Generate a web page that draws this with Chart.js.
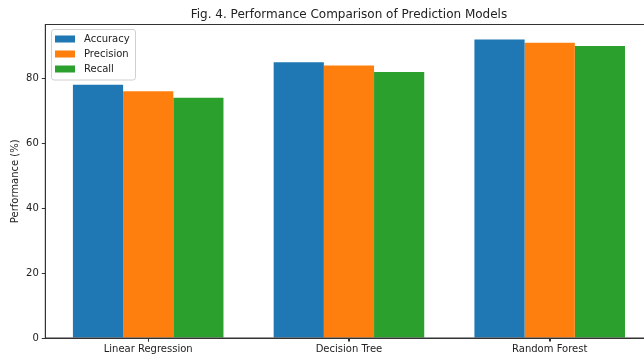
<!DOCTYPE html>
<html>
<head>
<meta charset="utf-8">
<script src="https://cdn.jsdelivr.net/npm/chart.js@4.4.1/dist/chart.umd.min.js"></script>
<style>
  html, body { margin: 0; padding: 0; overflow: hidden; background: #fff; }
  #wrap { position: relative; width: 660px; height: 356px; }
</style>
</head>
<body>
<div id="wrap"><canvas id="c"></canvas></div>
<script>
const categories = ['Linear Regression', 'Decision Tree', 'Random Forest'];
const accuracy = [78, 85, 92];
const precision = [76, 84, 91];
const recall = [74, 82, 90];
const yTicks = [0, 20, 40, 60, 80];
const seriesNames = ['Accuracy', 'Precision', 'Recall'];
const titleText = 'Fig. 4. Performance Comparison of Prediction Models';
const yLabel = 'Performance (%)';

const FONT = "'DejaVu Sans', sans-serif";
const colors = ['#1f77b4', '#ff7f0e', '#2ca02c'];

const toPoints = arr => arr.map((v, i) => ({ x: i, y: v }));

const framePlugin = {
  id: 'frame',
  afterDraw(chart) {
    const {ctx, chartArea: a} = chart;
    ctx.save();
    ctx.strokeStyle = '#333';
    ctx.lineWidth = 1;
    ctx.strokeRect(a.left, a.top, a.right - a.left, a.bottom - a.top);
    // x tick marks at category centres
    const xs = chart.scales.x;
    ctx.beginPath();
    categories.forEach((c, i) => {
      const px = Math.round(xs.getPixelForValue(i)) + 0.5;
      ctx.moveTo(px, a.bottom);
      ctx.lineTo(px, a.bottom + 3.5);
    });
    ctx.stroke();
    ctx.fillStyle = '#222';
    ctx.font = '12px ' + FONT;
    ctx.textAlign = 'center';
    ctx.textBaseline = 'middle';
    ctx.fillText(titleText, (a.left + a.right) / 2, 15);
    const bx = 51.5, by = 29.5, bw = 84, bh = 50.5;
    ctx.fillStyle = 'rgba(255,255,255,0.8)';
    ctx.strokeStyle = '#d0d0d0';
    ctx.beginPath();
    ctx.roundRect(bx, by, bw, bh, 2.5);
    ctx.fill();
    ctx.stroke();
    ctx.font = '10px ' + FONT;
    ctx.textAlign = 'left';
    chart.data.datasets.forEach((ds, i) => {
      const cy = 39 + i * 15;
      ctx.fillStyle = ds.backgroundColor;
      ctx.fillRect(55, cy - 3.5, 20, 7);
      ctx.fillStyle = '#222';
      ctx.fillText(ds.label, 84, cy + 0.5);
    });
    ctx.restore();
  }
};

new Chart(document.getElementById('c'), {
  type: 'bar',
  data: {
    datasets: [
      { label: seriesNames[0], data: toPoints(accuracy), backgroundColor: colors[0] },
      { label: seriesNames[1], data: toPoints(precision), backgroundColor: colors[1] },
      { label: seriesNames[2], data: toPoints(recall), backgroundColor: colors[2] }
    ]
  },
  options: {
    responsive: true,
    maintainAspectRatio: false,
    animation: false,
    datasets: { bar: { categoryPercentage: 0.75, barPercentage: 1.0, borderWidth: 0 } },
    layout: { padding: { top: 24.5, right: 7.4, left: 0, bottom: 0 } },
    plugins: {
      legend: { display: false },
      title: { display: false },
      tooltip: { enabled: false }
    },
    scales: {
      x: {
        type: 'linear',
        min: -0.5125,
        max: 2.5125,
        offset: false,
        afterBuildTicks(scale) { scale.ticks = categories.map((c, i) => ({ value: i })); },
        grid: { display: true, offset: false, drawOnChartArea: false, tickLength: 3.5, color: '#333', tickColor: '#333' },
        border: { display: true, color: '#333', width: 1 },
        ticks: {
          color: '#222', font: { family: FONT, size: 10 }, padding: 2, maxRotation: 0, autoSkip: false,
          callback: v => categories[v]
        },
        afterFit(scale) { scale.height = 356 - 338; }
      },
      y: {
        min: 0,
        max: 96.6,
        afterBuildTicks(scale) { scale.ticks = yTicks.map(v => ({ value: v })); },
        grid: { display: true, drawOnChartArea: false, tickLength: 3.5, color: '#333', tickColor: '#333' },
        border: { display: true, color: '#333', width: 1 },
        ticks: { color: '#222', font: { family: FONT, size: 10 }, padding: 3 },
        title: { display: true, text: yLabel, color: '#222', font: { family: FONT, size: 10 }, padding: { top: 9.3, bottom: 0 } },
        afterFit(scale) { scale.width = 45.3; }
      }
    }
  },
  plugins: [framePlugin]
});
</script>
</body>
</html>
